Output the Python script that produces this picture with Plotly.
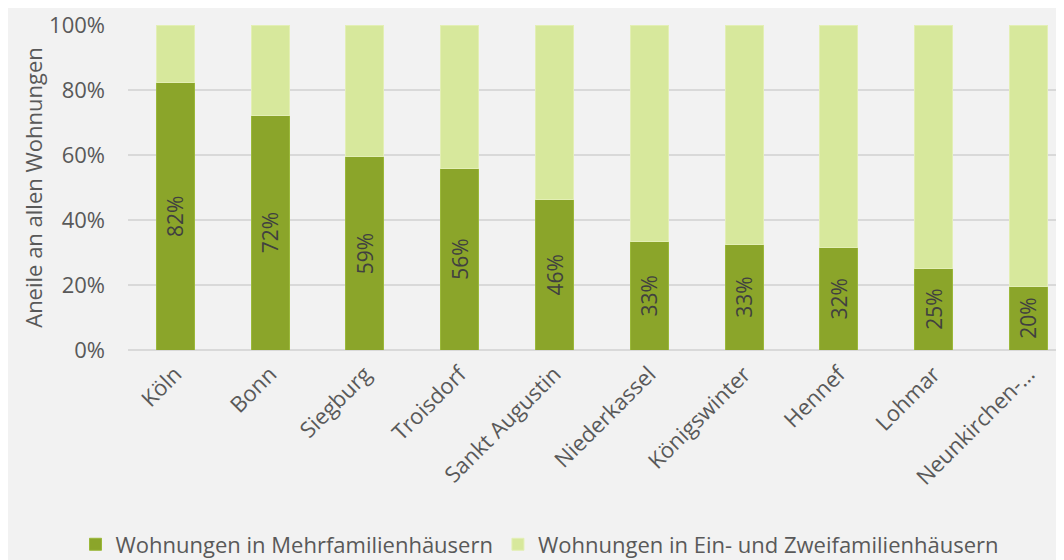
import plotly.graph_objects as go

cities = ["Köln", "Bonn", "Siegburg", "Troisdorf", "Sankt Augustin", "Niederkassel",
          "Königswinter", "Hennef", "Lohmar", "Neunkirchen-..."]
mfh = [82.3, 72.2, 59.4, 56.0, 46.2, 33.4, 32.6, 31.5, 25.2, 19.6]
ezfh = [100 - v for v in mfh]
labels = [f"{round(v)}%" for v in mfh]

name_mfh = "Wohnungen in Mehrfamilienhäusern"
name_ezfh = "Wohnungen in Ein- und Zweifamilienhäusern"

font_family = "Open Sans, Liberation Sans, sans-serif"
txt = "#595959"

fig = go.Figure()
fig.add_trace(go.Bar(
    x=cities, y=mfh, name=name_mfh,
    marker=dict(color="#8BA52A", line=dict(color="#9bb83a", width=1)),
    text=labels, textposition="inside", textangle=-90, insidetextanchor="middle",
    textfont=dict(color="#404040", size=21, family=font_family),
    hoverinfo="skip",
))
fig.add_trace(go.Bar(
    x=cities, y=ezfh, name=name_ezfh,
    marker=dict(color="#D7E89C", line=dict(color="#e3efb5", width=1)),
    hoverinfo="skip",
))

fig.update_layout(
    width=1064, height=560,
    barmode="stack", bargap=0.6,
    paper_bgcolor="#F2F2F2", plot_bgcolor="#F2F2F2",
    margin=dict(l=120, r=0, t=17, b=218, autoexpand=False),
    font=dict(family=font_family, color=txt, size=22),
    showlegend=True,
    legend=dict(orientation="h", xref="container", yref="container",
                x=0.5, xanchor="center", y=0.042, yanchor="middle",
                font=dict(size=22, color=txt), traceorder="normal",
                itemwidth=30, bgcolor="rgba(0,0,0,0)"),
    xaxis=dict(tickangle=-45, tickfont=dict(size=22, color=txt),
               range=[-0.5, 9.46], showgrid=False, showline=False, ticks="",
               ticklabelstandoff=6),
    yaxis=dict(range=[0, 100], tickvals=[0, 20, 40, 60, 80, 100],
               ticktext=["0%", "20%", "40%", "60%", "80%", "100%"],
               tickfont=dict(size=22, color=txt),
               gridcolor="#D9D9D9", gridwidth=2, zeroline=True,
               zerolinecolor="#D9D9D9", zerolinewidth=2,
               ticklabelstandoff=22,
               title=dict(text="Aneile an allen Wohnungen", font=dict(size=22, color=txt), standoff=0)),
)

fig.write_html("out.html")
